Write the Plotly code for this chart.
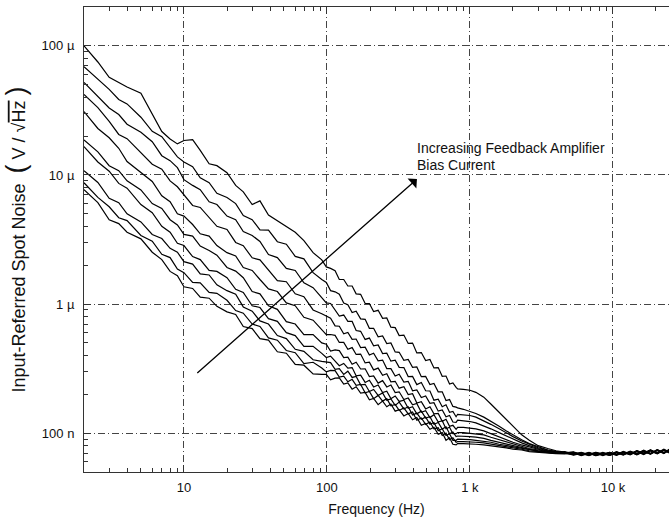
import math
import plotly.graph_objects as go

# Frequency grid (Hz): FFT sweep up to 800 Hz, swept-sine band above it
freq_lo = [2, 2.5, 3, 3.5, 4, 5, 6, 7, 8, 9, 10, 11.5, 13, 15, 17, 20, 23, 26, 30, 34,
           39, 45, 52, 60, 69, 80,
           92, 99, 106, 114, 122, 131, 140, 150, 160, 172, 185, 198, 212, 228, 245, 262,
           280, 300, 320, 345, 370, 397, 425, 457, 490, 525, 560, 600, 640, 680, 720,
           760, 800]
freq_hi = [820, 900, 1000, 1100, 1250, 1400, 1600, 1800, 2000, 2300, 2600, 3000, 3500,
           4000, 4600, 5300, 6000, 6800, 7600, 8500, 9500, 10600, 11800, 13200, 14700,
           16400, 18300, 20400, 22700, 25000]

# Input-referred spot noise (uV/rtHz), one sweep per feedback-amplifier bias setting
bias01_lo = [7.7, 6.1, 4.5, 4.2, 3.6, 3.2, 2.52, 2.21, 1.79, 1.66, 1.36, 1.32, 1.13, 1.11,
             0.96, 0.87, 0.83, 0.67, 0.645, 0.54, 0.525, 0.427, 0.416, 0.341, 0.336, 0.288,
             0.285, 0.285, 0.259, 0.267, 0.268, 0.240, 0.245, 0.219, 0.229, 0.204, 0.207,
             0.181, 0.186, 0.166, 0.177, 0.160, 0.168, 0.148, 0.152, 0.136, 0.142, 0.127,
             0.132, 0.115, 0.119, 0.107, 0.111, 0.098, 0.101, 0.088, 0.092, 0.082, 0.081]
bias01_hi = [0.083, 0.083, 0.083, 0.082, 0.081, 0.08, 0.078, 0.077, 0.075, 0.074, 0.072,
             0.071, 0.0702, 0.0694,
             0.0692, 0.0703, 0.0671, 0.0698, 0.0671, 0.0698, 0.0673, 0.0707, 0.0675,
             0.0714, 0.0683, 0.0725, 0.0687, 0.0734, 0.0695, 0.0742]

bias02_lo = [8.7, 6.7, 5.67, 4.66, 4.43, 3.4, 3.07, 2.43, 2.29, 1.87, 1.75, 1.47, 1.46, 1.23,
             1.21, 1.07, 0.89, 0.85, 0.7, 0.67, 0.547, 0.525, 0.437, 0.42, 0.346, 0.354,
             0.32, 0.298, 0.306, 0.305, 0.272, 0.276, 0.250, 0.261, 0.235, 0.238, 0.205,
             0.210, 0.185, 0.196, 0.177, 0.185, 0.163, 0.167, 0.150, 0.157, 0.141, 0.146,
             0.126, 0.131, 0.117, 0.122, 0.108, 0.110, 0.096, 0.100, 0.089, 0.092, 0.085]
bias02_hi = [0.086, 0.086, 0.086, 0.085, 0.084, 0.082, 0.08, 0.078, 0.077, 0.075, 0.073,
             0.072, 0.0705, 0.0697,
             0.0706, 0.0676, 0.0698, 0.0671, 0.0698, 0.0671, 0.07, 0.0672, 0.0709, 0.0679,
             0.0718, 0.0683, 0.0729, 0.0691, 0.0738, 0.0698]

bias03_lo = [10.8, 8.75, 6.6, 6.1, 5.0, 4.33, 3.46, 3.22, 2.7, 2.52, 2.13, 2.04, 1.71, 1.68,
             1.41, 1.27, 1.19, 0.95, 0.88, 0.74, 0.7, 0.57, 0.54, 0.446, 0.43, 0.37,
             0.36, 0.354, 0.352, 0.312, 0.316, 0.285, 0.302, 0.270, 0.275, 0.237, 0.239,
             0.210, 0.218, 0.196, 0.205, 0.180, 0.184, 0.164, 0.174, 0.154, 0.160, 0.138,
             0.143, 0.128, 0.133, 0.117, 0.121, 0.1045, 0.108, 0.096, 0.099, 0.088, 0.088]
bias03_hi = [0.09, 0.09, 0.089, 0.088, 0.087, 0.085, 0.082, 0.08, 0.078, 0.076, 0.074,
             0.0725, 0.071, 0.07,
             0.0711, 0.0687, 0.0702, 0.0681, 0.0709, 0.0688, 0.0711, 0.0683, 0.0714, 0.069,
             0.0733, 0.0702, 0.0741, 0.0702, 0.0742, 0.071]

bias04_lo = [16.6, 12.6, 10.7, 8.6, 7.9, 5.9, 5.1, 4.0, 3.6, 2.96, 2.84, 2.33, 2.21, 1.82,
             1.79, 1.6, 1.3, 1.23, 0.97, 0.94, 0.77, 0.735, 0.6, 0.57, 0.47, 0.47,
             0.415, 0.385, 0.395, 0.358, 0.333, 0.347, 0.319, 0.322, 0.278, 0.281, 0.247,
             0.257, 0.228, 0.236, 0.206, 0.211, 0.185, 0.194, 0.176, 0.180, 0.156, 0.160,
             0.141, 0.148, 0.131, 0.134, 0.117, 0.121, 0.1075, 0.112, 0.099, 0.102, 0.094]
bias04_hi = [0.095, 0.095, 0.094, 0.093, 0.091, 0.088, 0.085, 0.082, 0.08, 0.077, 0.075,
             0.073, 0.0715, 0.0702,
             0.0699, 0.0703, 0.0678, 0.0698, 0.0671, 0.0691, 0.0673, 0.0707, 0.0682,
             0.0714, 0.0679, 0.0718, 0.0687, 0.0734, 0.0702, 0.0742]

bias05_lo = [18.7, 15.1, 11.8, 10.8, 9.0, 7.65, 6.0, 5.5, 4.5, 4.1, 3.46, 3.36, 2.81, 2.6,
             2.39, 1.92, 1.8, 1.6, 1.25, 1.2, 0.97, 0.91, 0.73, 0.7, 0.58, 0.58,
             0.5, 0.488, 0.432, 0.441, 0.436, 0.385, 0.388, 0.342, 0.354, 0.314, 0.315,
             0.274, 0.278, 0.244, 0.255, 0.228, 0.236, 0.206, 0.209, 0.182, 0.187, 0.166,
             0.170, 0.145, 0.149, 0.132, 0.139, 0.122, 0.125, 0.108, 0.111, 0.099, 0.099]
bias05_hi = [0.101, 0.101, 0.1, 0.099, 0.097, 0.093, 0.089, 0.085, 0.082, 0.079, 0.076,
             0.074, 0.072, 0.0706,
             0.0704, 0.0715, 0.0681, 0.0709, 0.0681, 0.0709, 0.0683, 0.0718, 0.0686,
             0.0725, 0.0694, 0.0737, 0.0698, 0.0745, 0.0706, 0.0754]

bias06_lo = [31, 22.9, 19.4, 16.1, 12.7, 10.5, 8.9, 6.9, 6.2, 5.0, 4.8, 4.13, 3.5, 3.36,
             2.84, 2.5, 2.36, 1.92, 1.82, 1.55, 1.31, 1.25, 1.02, 0.97, 0.79, 0.75,
             0.64, 0.58, 0.581, 0.572, 0.504, 0.504, 0.447, 0.46, 0.407, 0.41, 0.35, 0.354,
             0.309, 0.319, 0.281, 0.289, 0.25, 0.252, 0.223, 0.229, 0.199, 0.202, 0.171,
             0.175, 0.154, 0.16, 0.141, 0.142, 0.1235, 0.128, 0.113, 0.115, 0.107]
bias06_hi = [0.111, 0.111, 0.11, 0.108, 0.104, 0.099, 0.094, 0.089, 0.085, 0.081, 0.078,
             0.075, 0.0725, 0.071,
             0.0718, 0.0687, 0.0709, 0.0681, 0.0709, 0.0681, 0.0711, 0.0683, 0.0721,
             0.069, 0.0729, 0.0694, 0.0741, 0.0702, 0.075, 0.071]

bias07_lo = [42, 33.2, 26, 20.6, 19.1, 15, 12.1, 11.1, 9.0, 8.1, 7, 5.8, 5.6, 4.7, 4.0,
             3.78, 3.0, 2.83, 2.28, 2.2, 1.85, 1.52, 1.49, 1.2, 1.14, 0.9,
             0.84, 0.804, 0.777, 0.678, 0.673, 0.588, 0.603, 0.533, 0.536, 0.46, 0.464,
             0.403, 0.416, 0.363, 0.368, 0.316, 0.316, 0.277, 0.286, 0.249, 0.252, 0.213,
             0.216, 0.189, 0.194, 0.17, 0.172, 0.148, 0.151, 0.134, 0.137, 0.122, 0.121]
bias07_hi = [0.126, 0.125, 0.123, 0.12, 0.114, 0.108, 0.101, 0.095, 0.09, 0.084, 0.08,
             0.076, 0.073, 0.0715,
             0.0705, 0.0681, 0.0697, 0.0676, 0.0704, 0.0683, 0.0706, 0.0678, 0.0708,
             0.0684, 0.0727, 0.0696, 0.0735, 0.0696, 0.0736, 0.0704]

bias08_lo = [52, 40.2, 33, 29.4, 24.7, 21.4, 18.1, 14.1, 12.9, 11.4, 9.2, 8.3, 7.7, 6.2,
             5.9, 4.8, 4.5, 3.65, 3.4, 3.05, 2.42, 2.29, 1.89, 1.82, 1.46, 1.34,
             1.13, 1.02, 1.01, 0.89, 0.808, 0.822, 0.735, 0.733, 0.624, 0.615, 0.532, 0.545,
             0.475, 0.482, 0.413, 0.416, 0.361, 0.368, 0.323, 0.322, 0.274, 0.275, 0.2375,
             0.247, 0.213, 0.212, 0.18, 0.183, 0.16, 0.166, 0.145, 0.147, 0.134]
bias08_hi = [0.14, 0.139, 0.137, 0.133, 0.125, 0.117, 0.108, 0.1, 0.094, 0.087, 0.082,
             0.077, 0.074, 0.0718,
             0.0705, 0.0709, 0.0683, 0.0704, 0.0676, 0.0697, 0.0678, 0.0712, 0.0688,
             0.072, 0.0685, 0.0724, 0.0693, 0.074, 0.0708, 0.0748]

bias09_lo = [69, 55, 46, 38.4, 35.5, 28, 21.8, 19.8, 16.3, 13.8, 12.6, 11.6, 9.5, 8.7, 7.2,
             6.7, 6.0, 4.85, 4.5, 3.76, 3.74, 3.04, 2.91, 2.34, 2.24, 1.75,
             1.55, 1.47, 1.27, 1.244, 1.19, 1.02, 0.99, 0.86, 0.879, 0.767, 0.762, 0.649,
             0.649, 0.557, 0.567, 0.494, 0.499, 0.426, 0.423, 0.366, 0.372, 0.323, 0.326,
             0.274, 0.275, 0.238, 0.243, 0.209, 0.209, 0.179, 0.182, 0.161, 0.159]
bias09_hi = [0.157, 0.153, 0.148, 0.142, 0.133, 0.124, 0.113, 0.104, 0.097, 0.089, 0.083,
             0.078, 0.074, 0.072,
             0.0698, 0.0709, 0.0676, 0.0704, 0.0676, 0.0704, 0.0678, 0.0712, 0.0681,
             0.072, 0.0688, 0.0731, 0.0693, 0.074, 0.07, 0.0748]

bias10_lo = [100, 75, 57, 52, 48, 43, 30, 21.7, 19, 17.4, 18.5, 18.8, 15.5, 12.2, 11.8,
             10.4, 8.3, 7.4, 5.9, 6.3, 4.9, 4.4, 4.0, 3.6, 3.1, 2.5,
             2.2, 1.94, 1.89, 1.81, 1.55, 1.55, 1.38, 1.38, 1.2, 1.19, 1.01, 1.01, 0.874,
             0.894, 0.776, 0.78, 0.662, 0.656, 0.57, 0.575, 0.495, 0.498, 0.418, 0.421,
             0.365, 0.372, 0.32, 0.322, 0.2755, 0.277, 0.24, 0.245, 0.226]
bias10_hi = [0.22, 0.218, 0.215, 0.207, 0.19, 0.168, 0.145, 0.126, 0.112, 0.097, 0.088,
             0.08, 0.076, 0.073,
             0.0712, 0.0681, 0.0704, 0.0676, 0.0704, 0.0676, 0.0706, 0.0678, 0.0715,
             0.0684, 0.0724, 0.0689, 0.0735, 0.0696, 0.0744, 0.0704]

sweeps = [
    (bias01_lo, bias01_hi), (bias02_lo, bias02_hi), (bias03_lo, bias03_hi),
    (bias04_lo, bias04_hi), (bias05_lo, bias05_hi), (bias06_lo, bias06_hi),
    (bias07_lo, bias07_hi), (bias08_lo, bias08_hi), (bias09_lo, bias09_hi),
    (bias10_lo, bias10_hi),
]
for lo, hi in sweeps:
    assert len(lo) == len(freq_lo) and len(hi) == len(freq_hi)

x_tick_vals = [10, 100, 1000, 10000]
x_tick_text = ["10", "100", "1 k", "10 k"]
y_tick_vals = [0.1, 1, 10, 100]
y_tick_text = ["100 n", "1 \u00b5", "10 \u00b5", "100 \u00b5"]
minor_x = [m * d for d in (1, 10, 100, 1000, 10000) for m in range(2, 10)]
minor_y = [m * d for d in (0.01, 0.1, 1, 10, 100) for m in range(2, 10)]

# Arrow: low bias -> high bias (Hz, uV/rtHz)
arrow_tail = (12.1, 0.286)
arrow_tip = (426, 9.3)

FONT = "Liberation Sans, Arial, sans-serif"
INK = "#111111"
AXIS = "#333333"

fig = go.Figure()
for lo, hi in sweeps:
    fig.add_trace(go.Scatter(
        x=freq_lo + freq_hi, y=lo + hi, mode="lines",
        line=dict(color="black", width=1.2), showlegend=False, hoverinfo="skip",
    ))

grid_style = dict(showgrid=True, gridcolor="#444444", gridwidth=1,
                  griddash="7px,3px,1px,3px")

fig.update_xaxes(
    type="log", range=[math.log10(2), 4.392],
    tickmode="array", tickvals=x_tick_vals, ticktext=x_tick_text,
    ticks="inside", ticklen=7, tickwidth=1, tickcolor=AXIS,
    minor=dict(tickmode="array", tickvals=minor_x, ticks="inside", ticklen=4,
               tickcolor=AXIS, showgrid=False),
    showline=True, linecolor=AXIS, linewidth=1, mirror="ticks",
    zeroline=False, ticklabelstandoff=3,
    tickfont=dict(family=FONT, size=13, color=INK),
    title=dict(text="Frequency (Hz)", font=dict(family=FONT, size=14, color=INK), standoff=10),
    **grid_style,
)

y_title = ("Input-Referred Spot Noise  <span style='font-size:27px'>(</span> V / "
           "\u221a<span style='text-decoration:overline'>Hz</span> "
           "<span style='font-size:27px'>)</span>")
fig.update_yaxes(
    type="log", range=[math.log10(0.05), math.log10(200)],
    tickmode="array", tickvals=y_tick_vals, ticktext=y_tick_text,
    ticks="inside", ticklen=7, tickwidth=1, tickcolor=AXIS,
    minor=dict(tickmode="array", tickvals=minor_y, ticks="inside", ticklen=4,
               tickcolor=AXIS, showgrid=False),
    showline=True, linecolor=AXIS, linewidth=1, mirror=False,
    zeroline=False, ticklabelstandoff=6,
    tickfont=dict(family=FONT, size=13, color=INK),
    title=dict(text=y_title, font=dict(family=FONT, size=18, color=INK), standoff=11),
    **grid_style,
)

fig.add_annotation(
    x=math.log10(arrow_tip[0]), y=math.log10(arrow_tip[1]),
    ax=math.log10(arrow_tail[0]), ay=math.log10(arrow_tail[1]),
    xref="x", yref="y", axref="x", ayref="y", text="",
    showarrow=True, arrowhead=1, arrowsize=1.7, arrowwidth=1.3, arrowcolor="black",
)
fig.add_annotation(
    x=math.log10(418), y=math.log10(16.3), xref="x", yref="y",
    text="Increasing Feedback Amplifier", showarrow=False, xanchor="left", yanchor="middle",
    font=dict(family=FONT, size=14, color=INK), borderpad=0,
)
fig.add_annotation(
    x=math.log10(418), y=math.log10(11.9), xref="x", yref="y",
    text="Bias Current", showarrow=False, xanchor="left", yanchor="middle",
    font=dict(family=FONT, size=14, color=INK), borderpad=0,
)

fig.update_layout(
    width=669, height=520,
    margin=dict(l=84, r=0, t=7, b=48),
    paper_bgcolor="white", plot_bgcolor="white",
)

fig.write_html("out.html")
